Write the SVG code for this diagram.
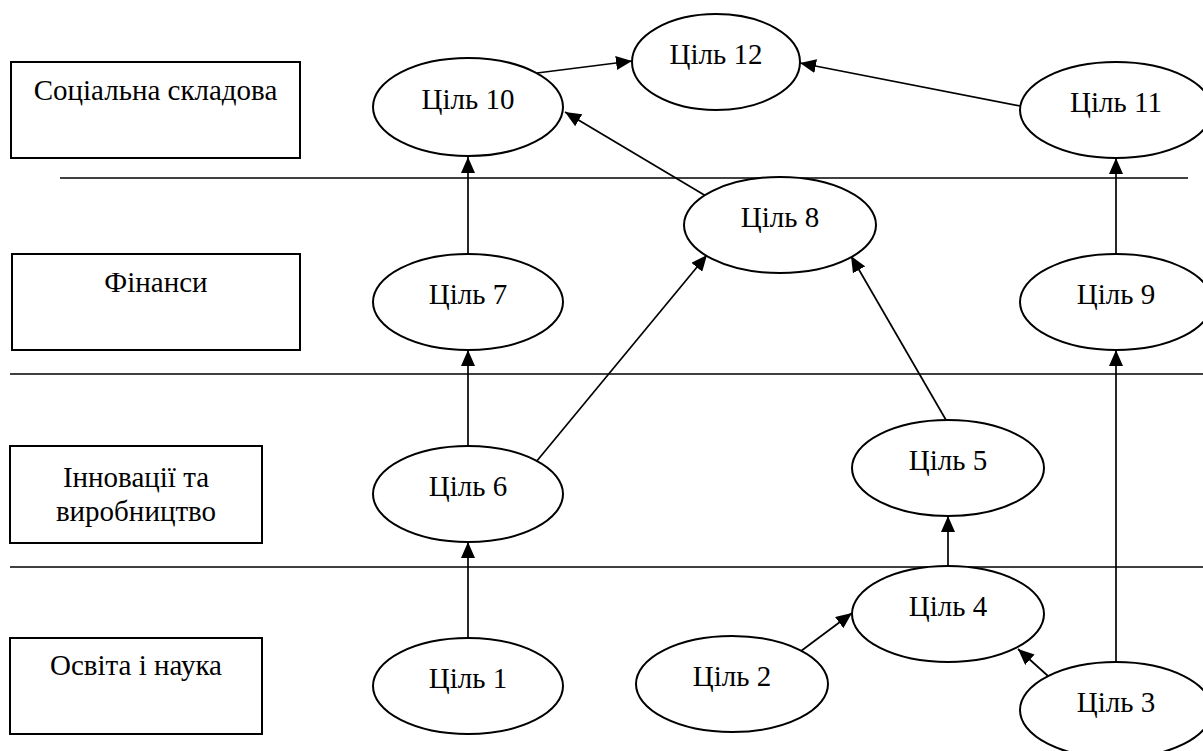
<svg xmlns="http://www.w3.org/2000/svg" width="1203" height="751" viewBox="0 0 1203 751">
<style>
.box{fill:#fff;stroke:#000;stroke-width:2}
.el{fill:#fff;stroke:#000;stroke-width:2}
.t{font-family:"Liberation Serif","Times New Roman",serif;font-size:29px;fill:#000;text-anchor:middle}
.sep{stroke:#000;stroke-width:1.7}
.c{stroke:#000;stroke-width:1.7;fill:none;marker-end:url(#ah)}
</style>
<defs>
<marker id="ah" markerUnits="userSpaceOnUse" markerWidth="17" markerHeight="14" refX="16" refY="7" orient="auto">
<path d="M0,0 L16,7 L0,14 Z" fill="#000"/>
</marker>
</defs>
<rect width="1203" height="751" fill="#fff"/>
<g id="separators">
<line class="sep" x1="60" y1="178" x2="1188" y2="178"/>
<line class="sep" x1="10" y1="374" x2="1203" y2="374"/>
<line class="sep" x1="10" y1="567" x2="1203" y2="567"/>
</g>
<g id="connectors">
<line class="c" x1="537" y1="73" x2="632" y2="61"/>
<line class="c" x1="1020" y1="106" x2="800" y2="63"/>
<line class="c" x1="706" y1="196" x2="565" y2="112"/>
<line class="c" x1="468" y1="254" x2="468" y2="157"/>
<line class="c" x1="1116" y1="254" x2="1116" y2="158"/>
<line class="c" x1="468" y1="445" x2="468" y2="350"/>
<line class="c" x1="536" y1="462" x2="707" y2="255"/>
<line class="c" x1="946" y1="420" x2="851" y2="256"/>
<line class="c" x1="948" y1="566" x2="948" y2="516"/>
<line class="c" x1="468" y1="638" x2="468" y2="542"/>
<line class="c" x1="801" y1="651" x2="852" y2="613"/>
<line class="c" x1="1048" y1="676" x2="1018" y2="649"/>
<line class="c" x1="1116" y1="662" x2="1116" y2="350"/>
</g>
<g id="lane-social"><rect class="box" x="11" y="62" width="289" height="96"/><text class="t" x="155.5" y="100">Соціальна складова</text></g>
<g id="lane-finance"><rect class="box" x="12" y="254" width="288" height="96"/><text class="t" x="156" y="292">Фінанси</text></g>
<g id="lane-innovation"><rect class="box" x="10" y="446" width="252" height="97"/><text class="t" x="136" y="487">Інновації та</text><text class="t" x="136" y="521">виробництво</text></g>
<g id="lane-education"><rect class="box" x="10" y="638" width="252" height="96"/><text class="t" x="136" y="675">Освіта і наука</text></g>
<g id="goal12"><ellipse class="el" cx="716" cy="62" rx="84" ry="48"/><text class="t" x="716" y="64">Ціль 12</text></g>
<g id="goal10"><ellipse class="el" cx="468" cy="107" rx="95" ry="49"/><text class="t" x="468" y="109">Ціль 10</text></g>
<g id="goal11"><ellipse class="el" cx="1116" cy="110" rx="96" ry="48"/><text class="t" x="1116" y="112">Ціль 11</text></g>
<g id="goal8"><ellipse class="el" cx="780" cy="225" rx="96" ry="48"/><text class="t" x="780" y="227">Ціль 8</text></g>
<g id="goal7"><ellipse class="el" cx="468" cy="302" rx="95" ry="48"/><text class="t" x="468" y="304">Ціль 7</text></g>
<g id="goal9"><ellipse class="el" cx="1116" cy="302" rx="96" ry="48"/><text class="t" x="1116" y="304">Ціль 9</text></g>
<g id="goal6"><ellipse class="el" cx="468" cy="494" rx="95" ry="48"/><text class="t" x="468" y="496">Ціль 6</text></g>
<g id="goal5"><ellipse class="el" cx="948" cy="468" rx="96" ry="48"/><text class="t" x="948" y="470">Ціль 5</text></g>
<g id="goal4"><ellipse class="el" cx="948" cy="614" rx="96" ry="48"/><text class="t" x="948" y="616">Ціль 4</text></g>
<g id="goal1"><ellipse class="el" cx="468" cy="686" rx="95" ry="48"/><text class="t" x="468" y="688">Ціль 1</text></g>
<g id="goal2"><ellipse class="el" cx="732" cy="684" rx="96" ry="48"/><text class="t" x="732" y="686">Ціль 2</text></g>
<g id="goal3"><ellipse class="el" cx="1116" cy="710" rx="96" ry="48"/><text class="t" x="1116" y="712">Ціль 3</text></g>
</svg>
